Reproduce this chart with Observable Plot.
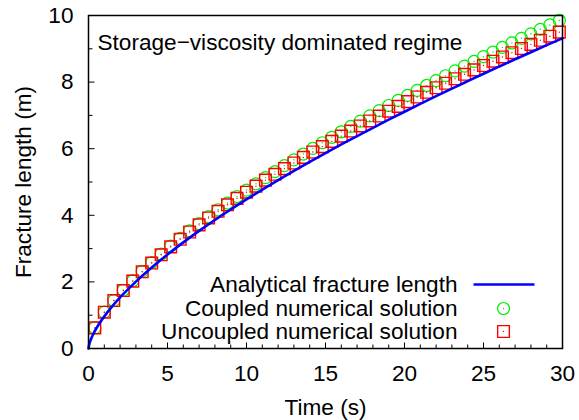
<!DOCTYPE html>
<html>
<head>
<meta charset="utf-8">
<script src="https://cdn.jsdelivr.net/npm/d3@7"></script>
<script src="https://cdn.jsdelivr.net/npm/@observablehq/plot@0.6"></script>
<style>
  html, body { margin: 0; padding: 0; background: white; }
</style>
</head>
<body>
<div id="chart"></div>
<script>
// ---------------- data ----------------
const chartTitle = "Storage\u2212viscosity dominated regime";
const xLabel = "Time (s)";
const yLabel = "Fracture length (m)";
const legendLabels = ["Analytical fracture length", "Coupled numerical solution", "Uncoupled numerical solution"];

const xMajorTicks = [0, 5, 10, 15, 20, 25, 30];
const xMinorTicks = [1, 2, 3, 4, 6, 7, 8, 9, 11, 12, 13, 14, 16, 17, 18, 19, 21, 22, 23, 24, 26, 27, 28, 29];
const yMajorTicks = [0, 2, 4, 6, 8, 10];
const yMinorTicks = [1, 3, 5, 7, 9];

// analytical curve
const tAnalytical = [0, 0.05, 0.1, 0.2, 0.3, 0.5, 0.75, 1, 1.5, 2, 3, 4, 5, 6, 7, 8, 9, 10, 11, 12, 13, 14, 15,
  16, 17, 18, 19, 20, 21, 22, 23, 24, 25, 26, 27, 28, 29, 30];
const lengthAnalytical = [0, 0.131, 0.208, 0.330, 0.432, 0.608, 0.797, 0.965, 1.265, 1.532, 2.007, 2.432, 2.822,
  3.186, 3.531, 3.860, 4.175, 4.479, 4.773, 5.058, 5.335, 5.606, 5.869, 6.127, 6.380, 6.628, 6.871, 7.110,
  7.345, 7.577, 7.805, 8.029, 8.251, 8.469, 8.685, 8.898, 9.109, 9.317];

// numerical solutions (markers)
const tNumerical = [0.4, 1.0, 1.6, 2.2, 2.8, 3.4, 4.0, 4.6, 5.2, 5.8, 6.4, 7.0, 7.6, 8.2, 8.8, 9.4, 10.0,
  10.6, 11.2, 11.8, 12.4, 13.0, 13.6, 14.2, 14.8, 15.4, 16.0, 16.6, 17.2, 17.8, 18.4, 19.0, 19.6, 20.2,
  20.8, 21.4, 22.0, 22.6, 23.2, 23.8, 24.4, 25.0, 25.6, 26.2, 26.8, 27.4, 28.0, 28.6, 29.2, 29.8];
const lengthCoupled = [0.62, 1.09, 1.44, 1.75, 2.036, 2.317, 2.583, 2.834, 3.076, 3.308, 3.532, 3.750, 3.962,
  4.167, 4.368, 4.564, 4.758, 4.946, 5.131, 5.312, 5.491, 5.666, 5.840, 6.010, 6.178, 6.343, 6.508, 6.668,
  6.829, 6.987, 7.143, 7.297, 7.450, 7.601, 7.750, 7.899, 8.046, 8.191, 8.336, 8.479, 8.621, 8.763, 8.902,
  9.041, 9.179, 9.315, 9.450, 9.585, 9.718, 9.851];
const lengthUncoupled = [0.62, 1.09, 1.44, 1.74, 2.024, 2.304, 2.566, 2.814, 3.051, 3.280, 3.499, 3.713, 3.920,
  4.120, 4.316, 4.507, 4.694, 4.876, 5.055, 5.231, 5.403, 5.571, 5.739, 5.901, 6.062, 6.220, 6.377, 6.530,
  6.683, 6.833, 6.980, 7.126, 7.270, 7.413, 7.553, 7.693, 7.830, 7.966, 8.101, 8.235, 8.367, 8.499, 8.627,
  8.756, 8.883, 9.009, 9.133, 9.257, 9.379, 9.500];

// ---------------- build tables ----------------
const analytical = tAnalytical.map((t, i) => ({t, L: lengthAnalytical[i]}));
const coupled = tNumerical.map((t, i) => ({t, L: lengthCoupled[i]}));
const uncoupled = tNumerical.map((t, i) => ({t, L: lengthUncoupled[i]}));

// ---------------- styles ----------------
const FONT = "'Liberation Sans', Arial, Helvetica, sans-serif";
const FS = 22.6;
const BLUE = "#0000ff", GREEN = "#00ee00", RED = "#ff0000";
const SQ_R = 6.6, CI_R = 6;
const vTick = len => ({draw(ctx) { ctx.moveTo(0, 0); ctx.lineTo(0, -len); }});
const hTick = len => ({draw(ctx) { ctx.moveTo(0, 0); ctx.lineTo(len, 0); }});
const hLine = half => ({draw(ctx) { ctx.moveTo(-half, 0); ctx.lineTo(half, 0); }});

const chart = Plot.plot({
  width: 579,
  height: 420,
  marginLeft: 88,
  marginRight: 17,
  marginTop: 15,
  marginBottom: 72,
  x: {domain: [0, 30]},
  y: {domain: [0, 10]},
  style: {fontFamily: FONT, fontSize: FS + "px", color: "black", background: "white"},
  marks: [
    // axes labels
    Plot.axisX({ticks: xMajorTicks, tickSize: 0, tickPadding: 16, label: null, fontSize: FS, tickFormat: d => String(d)}),
    Plot.axisY({ticks: yMajorTicks, tickSize: 0, tickPadding: 15, label: null, fontSize: FS, tickFormat: d => String(d)}),
    // inward ticks
    Plot.dot(xMajorTicks, {x: d => d, frameAnchor: "bottom", symbol: vTick(6), fill: "none", stroke: "black", strokeWidth: 1}),
    Plot.dot(xMinorTicks, {x: d => d, frameAnchor: "bottom", symbol: vTick(4), fill: "none", stroke: "black", strokeWidth: 1}),
    Plot.dot(yMajorTicks, {y: d => d, frameAnchor: "left", symbol: hTick(6), fill: "none", stroke: "black", strokeWidth: 1}),
    Plot.dot(yMinorTicks, {y: d => d, frameAnchor: "left", symbol: hTick(4), fill: "none", stroke: "black", strokeWidth: 1}),
    // axis titles
    Plot.text([xLabel], {text: d => d, frameAnchor: "bottom", dy: 59, fontSize: FS, textAnchor: "middle", lineAnchor: "middle"}),
    Plot.text([yLabel], {text: d => d, frameAnchor: "left", dx: -65, rotate: -90, fontSize: FS, textAnchor: "middle", lineAnchor: "middle"}),
    // in-plot title
    Plot.text([chartTitle], {text: d => d, frameAnchor: "top-left", dx: 9, dy: 27, textAnchor: "start", lineAnchor: "middle", fontSize: FS}),
    // data
    Plot.dot(coupled, {x: "t", y: "L", r: CI_R, stroke: GREEN, strokeWidth: 1.2, fill: "none"}),
    Plot.dot(coupled, {x: "t", y: "L", r: 0.7, fill: GREEN, stroke: "none"}),
    Plot.dot(uncoupled, {x: "t", y: "L", symbol: "square", r: SQ_R, stroke: RED, strokeWidth: 1.4, fill: "none"}),
    Plot.dot(uncoupled, {x: "t", y: "L", r: 0.7, fill: RED, stroke: "none"}),
    Plot.line(analytical, {x: "t", y: "L", stroke: BLUE, strokeWidth: 2.6, curve: "monotone-x"}),
    // legend
    Plot.text([legendLabels[0]], {text: d => d, frameAnchor: "bottom-right", dx: -105, dy: -64, textAnchor: "end", lineAnchor: "middle", fontSize: FS}),
    Plot.text([legendLabels[1]], {text: d => d, frameAnchor: "bottom-right", dx: -105, dy: -40, textAnchor: "end", lineAnchor: "middle", fontSize: FS}),
    Plot.text([legendLabels[2]], {text: d => d, frameAnchor: "bottom-right", dx: -105, dy: -17, textAnchor: "end", lineAnchor: "middle", fontSize: FS}),
    Plot.dot([legendLabels[0]], {frameAnchor: "bottom-right", dx: -58.5, dy: -64, symbol: hLine(30.5), fill: "none", stroke: BLUE, strokeWidth: 2.6}),
    Plot.dot([legendLabels[1]], {frameAnchor: "bottom-right", dx: -59, dy: -40, r: CI_R, fill: "none", stroke: GREEN, strokeWidth: 1.2}),
    Plot.dot([legendLabels[1]], {frameAnchor: "bottom-right", dx: -59, dy: -40, r: 0.7, fill: GREEN, stroke: "none"}),
    Plot.dot([legendLabels[2]], {frameAnchor: "bottom-right", dx: -59, dy: -17, symbol: "square", r: SQ_R, fill: "none", stroke: RED, strokeWidth: 1.4}),
    Plot.dot([legendLabels[2]], {frameAnchor: "bottom-right", dx: -59, dy: -17, r: 0.7, fill: RED, stroke: "none"}),
    // frame
    Plot.frame({stroke: "black", strokeWidth: 1.5})
  ]
});
document.getElementById("chart").appendChild(chart);
</script>
</body>
</html>
